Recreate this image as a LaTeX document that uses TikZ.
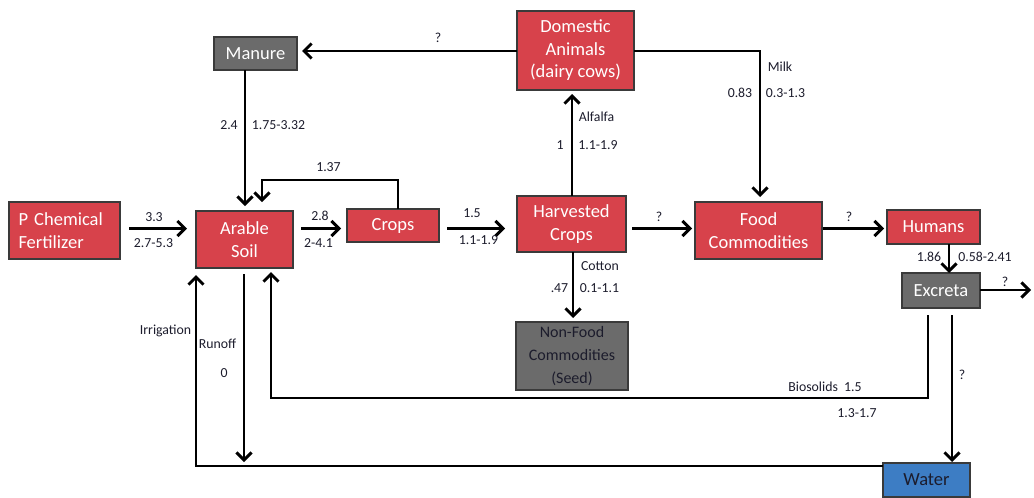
\documentclass[tikz,border=0pt]{standalone}
\usepackage{fontspec}
\setmainfont{Carlito}
\usetikzlibrary{arrows.meta,calc}
\definecolor{boxred}{HTML}{D7424B}
\definecolor{boxgray}{HTML}{6B6B6B}
\definecolor{boxblue}{HTML}{3D7DC4}
\definecolor{boxline}{HTML}{3A3A3A}
\definecolor{lblcol}{HTML}{1C1C2C}
\newcommand\bxfont{\fontsize{18.5}{22.5}\selectfont}
\newcommand\smbxfont{\fontsize{16}{23}\selectfont}
\newcommand\lbfont{\fontsize{13.8}{16}\selectfont}
\begin{document}
\begin{tikzpicture}[x=1pt,y=-1pt,
  box/.style={draw=boxline, line width=1.2pt, inner sep=0pt, outer sep=0pt, align=center, font=\bxfont},
  redbox/.style={box, fill=boxred, text=white},
  graybox/.style={box, fill=boxgray, text=white},
  darkgraybox/.style={box, fill=boxgray, text=lblcol},
  bluebox/.style={box, fill=boxblue, text=lblcol},
  arr/.style={line width=2.9pt, -{Straight Barb[length=7.5pt,width=15pt]}},
  lbl/.style={font=\lbfont, text=lblcol, inner sep=0pt}]
\useasboundingbox (0,0) rectangle (1034,498);

% boxes
\node[graybox, minimum width=83pt, minimum height=33pt] (manure) at (255.5,53.5) {Manure};
\node[redbox, minimum width=111pt, minimum height=57pt, align=left, text width=92pt] (fert) at (64.5,230.5) {P Chemical\\Fertilizer};
\node[redbox, minimum width=97pt, minimum height=57pt] (arable) at (244.5,239.5) {Arable\\Soil};
\node[redbox, minimum width=92pt, minimum height=33pt] (crops) at (393,225.5) {Crops};
\node[redbox, minimum width=109pt, minimum height=56pt] (harv) at (571.5,224) {Harvested\\Crops};
\node[redbox, minimum width=117pt, minimum height=79pt] (dom) at (575.5,50.5) {Domestic\\Animals\\(dairy cows)};
\node[redbox, minimum width=127pt, minimum height=57pt] (food) at (758.5,230.5) {Food\\Commodities};
\node[redbox, minimum width=93pt, minimum height=34pt] (humans) at (933.5,227) {Humans};
\node[graybox, minimum width=78pt, minimum height=35pt] (excreta) at (941,290.5) {Excreta};
\node[darkgraybox, minimum width=112pt, minimum height=68pt, font=\smbxfont] (nonfood) at (572,356) {Non-Food\\Commodities\\(Seed)};
\node[bluebox, minimum width=87pt, minimum height=34pt] (water) at (926.5,480) {Water};

% helper coordinates
\coordinate (yA) at (0,51);
\coordinate (yR) at (0,228.5);
\coordinate (yL) at (0,180);
\coordinate (yB) at (0,398);
\coordinate (yW) at (0,466);
\coordinate (yE) at (0,290);
\coordinate (xM) at (245,0);
\coordinate (xLa) at (398,0);
\coordinate (xLb) at (262,0);
\coordinate (xA) at (572,0);
\coordinate (xMilk) at (760,0);
\coordinate (xH) at (949,0);
\coordinate (xBio) at (928,0);
\coordinate (xWat) at (952,0);
\coordinate (xBioUp) at (271,0);
\coordinate (xRun) at (244,0);
\coordinate (xIrr) at (196,0);
\coordinate (xCot) at (573,0);
\coordinate (exo) at (1031,290);
\coordinate (runend) at (244,466);

% connectors
\draw[arr, shorten >=5pt] (dom.west |- yA) -- (manure.east |- yA);
\draw[arr, shorten >=5pt] (manure.south -| xM) -- (arable.north -| xM);
\draw[arr, shorten >=9pt] (crops.north -| xLa) -- (xLa |- yL) -- (xLb |- yL) -- (arable.north -| xLb);
\draw[arr, shorten <=9pt, shorten >=9pt] (fert.east |- yR) -- (arable.west |- yR);
\draw[arr, shorten <=8pt, shorten >=6pt] (arable.east |- yR) -- (crops.west |- yR);
\draw[arr, shorten <=8pt, shorten >=12pt] (crops.east |- yR) -- (harv.west |- yR);
\draw[arr, shorten <=6pt, shorten >=3pt] (harv.east |- yR) -- (food.west |- yR);
\draw[arr, shorten <=1pt, shorten >=3pt] (food.east |- yR) -- (humans.west |- yR);
\draw[arr, shorten >=4pt] (harv.north -| xA) -- (dom.south -| xA);
\draw[arr, shorten >=5pt] (dom.east |- yA) -- (xMilk |- yA) -- (food.north -| xMilk);
\draw[arr, shorten >=4pt] (harv.south -| xCot) -- (nonfood.north -| xCot);
\draw[arr] (humans.south -| xH) -- (excreta.north -| xH);
\draw[arr] (excreta.east |- yE) -- (exo);
\draw[arr, shorten <=7pt, shorten >=1pt] (excreta.south -| xWat) -- (water.north -| xWat);
\draw[arr, shorten <=7pt, shorten >=4pt] (excreta.south -| xBio) -- (xBio |- yB) -- (xBioUp |- yB) -- (arable.south -| xBioUp);
\draw[arr, shorten <=6pt, shorten >=4pt] (arable.south -| xRun) -- (runend);
\draw[arr, shorten >=7pt] (water.west |- yW) -- (xIrr |- yW) -- (arable.south -| xIrr);

% labels
\node[lbl] (l1) at (438,38) {?};
\node[lbl] (l2) at (229,125) {2.4};
\node[lbl] (l3) at (278.5,125) {1.75-3.32};
\node[lbl] (l4) at (328.5,167) {1.37};
\node[lbl] (l5) at (154,217) {3.3};
\node[lbl] (l6) at (153.5,243) {2.7-5.3};
\node[lbl] (l7) at (320,216) {2.8};
\node[lbl] (l8) at (318.5,243) {2-4.1};
\node[lbl] (l9) at (472,213) {1.5};
\node[lbl] (l10) at (478.5,240) {1.1-1.9};
\node[lbl] (l11) at (596.5,117) {Alfalfa};
\node[lbl] (l12) at (560,145) {1};
\node[lbl] (l13) at (598,145) {1.1-1.9};
\node[lbl] (l14) at (780,67) {Milk};
\node[lbl] (l15) at (740,93) {0.83};
\node[lbl] (l16) at (785.5,93) {0.3-1.3};
\node[lbl] (l17) at (659,217) {?};
\node[lbl] (l18) at (849,217) {?};
\node[lbl] (l19) at (929,257) {1.86};
\node[lbl] (l20) at (985,257) {0.58-2.41};
\node[lbl] (l21) at (1005,282) {?};
\node[lbl] (l22) at (962,375) {?};
\node[lbl] (l23) at (825,387) {Biosolids\ \ 1.5};
\node[lbl] (l24) at (857,413) {1.3-1.7};
\node[lbl] (l25) at (165.5,331) {Irrigation};
\node[lbl] (l26) at (217.5,344) {Runoff};
\node[lbl] (l27) at (224,373) {0};
\node[lbl] (l28) at (600,266) {Cotton};
\node[lbl] (l29) at (559.5,288) {.47};
\node[lbl] (l30) at (599.5,288) {0.1-1.1};
\end{tikzpicture}
\end{document}
